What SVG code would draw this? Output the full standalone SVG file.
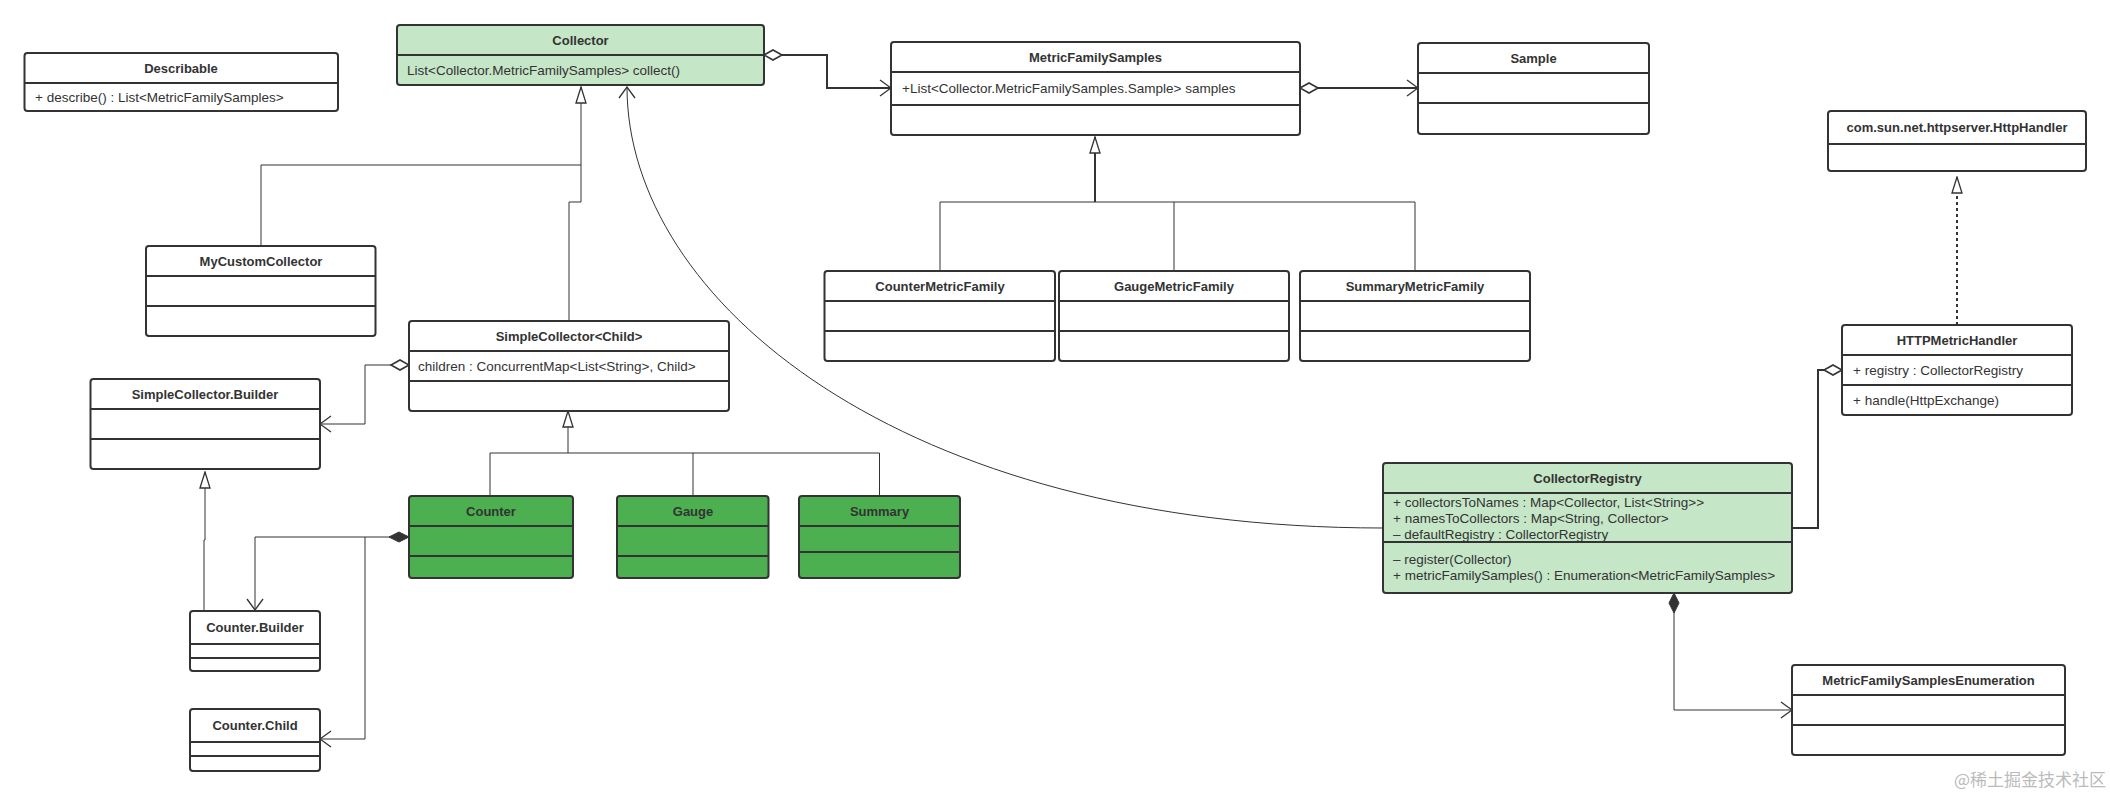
<svg xmlns="http://www.w3.org/2000/svg" width="2110" height="795" viewBox="0 0 2110 795">
<style>
.box{fill:#fff;stroke:#333;stroke-width:2}
.lg{fill:#c6e6c8}
.dg{fill:#4caf50}
.div{stroke:#333;stroke-width:2}
.h{font-family:"Liberation Sans",Arial,sans-serif;font-size:13px;font-weight:bold;fill:#333;text-anchor:middle}
.m{font-family:"Liberation Sans",Arial,sans-serif;font-size:13.5px;fill:#333}
.c{fill:none;stroke:#333;stroke-width:1}
.c2{fill:none;stroke:#333;stroke-width:2}
.wm{font-family:"Noto Sans CJK SC","Liberation Sans",sans-serif;font-size:17px;fill:#bbb;text-anchor:end}
</style>
<defs>
<marker id="open" markerUnits="userSpaceOnUse" viewBox="0 0 13 18" refX="12" refY="9" markerWidth="13" markerHeight="18" orient="auto"><path d="M1,1 L12,9 L1,17" fill="none" stroke="#333" stroke-width="1.3"/></marker>
<marker id="tri" markerUnits="userSpaceOnUse" viewBox="0 0 18 12" refX="17" refY="6" markerWidth="18" markerHeight="12" orient="auto"><path d="M1,1 L17,6 L1,11 Z" fill="#fff" stroke="#333" stroke-width="1.3"/></marker>
<marker id="hd" markerUnits="userSpaceOnUse" viewBox="0 0 22 12" refX="1" refY="6" markerWidth="22" markerHeight="12" orient="auto"><path d="M1,6 L10,1 L19,6 L10,11 Z" fill="#fff" stroke="#333" stroke-width="1.6"/></marker>
<marker id="fd" markerUnits="userSpaceOnUse" viewBox="0 0 22 12" refX="1" refY="6" markerWidth="22" markerHeight="12" orient="auto"><path d="M1,6 L11,1 L21,6 L11,11 Z" fill="#333" stroke="#333" stroke-width="1"/></marker>
</defs>
<g id="connectors">
<path class="c2" d="M764,55 H827 V88 H891" marker-start="url(#hd)" marker-end="url(#open)"/>
<path class="c2" d="M1300,88 H1418" marker-start="url(#hd)" marker-end="url(#open)"/>
<path class="c" d="M261,246 V165 H581"/>
<path class="c" d="M569,321 V202 H581 V87" marker-end="url(#tri)"/>
<path class="c" stroke="#777" d="M940,271 V202 H1415 V271 M1174,271 V202"/>
<path class="c2" d="M1095,202 V137" marker-end="url(#tri)"/>
<path class="c2" stroke-width="2.5" stroke-dasharray="3,3" d="M1957,325 V178" />
<path class="c" d="M1957,190 V177" marker-end="url(#tri)"/>
<path class="c2" d="M1842,370 H1818 V528 H1792" marker-start="url(#hd)"/>
<path class="c" stroke="#777" stroke-width="1.5" d="M1674,593 V710 H1792" marker-start="url(#fd)" marker-end="url(#open)"/>
<path class="c" d="M1383,528 C900,528 627,300 627,87" marker-end="url(#open)"/>
<path class="c" stroke="#666" d="M409,365 H365 V424 H320" marker-start="url(#hd)" marker-end="url(#open)"/>
<path class="c" d="M490,496 V453 H879.5 V496 M693,496 V453"/>
<path class="c" d="M568,453 V411" marker-end="url(#tri)"/>
<path class="c" stroke="#666" d="M409,537 H255 V610" marker-start="url(#fd)" marker-end="url(#open)"/>
<path class="c" stroke="#666" d="M365,537 V739 H320" marker-end="url(#open)"/>
<path class="c" stroke="#666" d="M204,611 V540 H205 V472" marker-end="url(#tri)"/>
</g>
<g id="Describable">
<rect class="box" x="24.5" y="53" width="313.5" height="58" rx="3"/>
<line class="div" x1="24.5" y1="83" x2="338" y2="83"/>
<text class="h" x="181" y="72.5">Describable</text>
<text class="m" x="35" y="102">+ describe() : List&lt;MetricFamilySamples&gt;</text>
</g>
<g id="Collector">
<rect class="box lg" x="397" y="25" width="367" height="60" rx="3"/>
<line class="div" x1="397" y1="55" x2="764" y2="55"/>
<text class="h" x="580.5" y="44.5">Collector</text>
<text class="m" x="407" y="75">List&lt;Collector.MetricFamilySamples&gt; collect()</text>
</g>
<g id="MetricFamilySamples">
<rect class="box" x="891" y="42" width="409" height="93" rx="3"/>
<line class="div" x1="891" y1="72" x2="1300" y2="72"/>
<line class="div" x1="891" y1="105" x2="1300" y2="105"/>
<text class="h" x="1095.5" y="62">MetricFamilySamples</text>
<text class="m" x="902" y="93">+List&lt;Collector.MetricFamilySamples.Sample&gt; samples</text>
</g>
<g id="Sample">
<rect class="box" x="1418" y="43" width="231" height="91" rx="3"/>
<line class="div" x1="1418" y1="73" x2="1649" y2="73"/>
<line class="div" x1="1418" y1="103" x2="1649" y2="103"/>
<text class="h" x="1533.5" y="63">Sample</text>
</g>
<g id="HttpHandler">
<rect class="box" x="1828" y="111" width="258" height="60" rx="3"/>
<line class="div" x1="1828" y1="144" x2="2086" y2="144"/>
<text class="h" x="1957" y="132">com.sun.net.httpserver.HttpHandler</text>
</g>
<g id="MyCustomCollector">
<rect class="box" x="146" y="246" width="229.5" height="90" rx="3"/>
<line class="div" x1="146" y1="276" x2="375.5" y2="276"/>
<line class="div" x1="146" y1="306" x2="375.5" y2="306"/>
<text class="h" x="261" y="266">MyCustomCollector</text>
</g>
<g id="SimpleCollector">
<rect class="box" x="409" y="321" width="320" height="90" rx="3"/>
<line class="div" x1="409" y1="351" x2="729" y2="351"/>
<line class="div" x1="409" y1="381" x2="729" y2="381"/>
<text class="h" x="569" y="341">SimpleCollector&lt;Child&gt;</text>
<text class="m" x="418" y="371">children : ConcurrentMap&lt;List&lt;String&gt;, Child&gt;</text>
</g>
<g id="CounterMetricFamily">
<rect class="box" x="824.5" y="271" width="230.5" height="90" rx="3"/>
<line class="div" x1="824.5" y1="301" x2="1055" y2="301"/>
<line class="div" x1="824.5" y1="331" x2="1055" y2="331"/>
<text class="h" x="940" y="291">CounterMetricFamily</text>
</g>
<g id="GaugeMetricFamily">
<rect class="box" x="1059" y="271" width="230" height="90" rx="3"/>
<line class="div" x1="1059" y1="301" x2="1289" y2="301"/>
<line class="div" x1="1059" y1="331" x2="1289" y2="331"/>
<text class="h" x="1174" y="291">GaugeMetricFamily</text>
</g>
<g id="SummaryMetricFamily">
<rect class="box" x="1300" y="271" width="230" height="90" rx="3"/>
<line class="div" x1="1300" y1="301" x2="1530" y2="301"/>
<line class="div" x1="1300" y1="331" x2="1530" y2="331"/>
<text class="h" x="1415" y="291">SummaryMetricFamily</text>
</g>
<g id="HTTPMetricHandler">
<rect class="box" x="1842" y="325" width="230" height="90" rx="3"/>
<line class="div" x1="1842" y1="355" x2="2072" y2="355"/>
<line class="div" x1="1842" y1="385" x2="2072" y2="385"/>
<text class="h" x="1957" y="345">HTTPMetricHandler</text>
<text class="m" x="1853" y="375">+ registry : CollectorRegistry</text>
<text class="m" x="1853" y="405">+ handle(HttpExchange)</text>
</g>
<g id="SimpleCollectorBuilder">
<rect class="box" x="90.5" y="379" width="229.5" height="90" rx="3"/>
<line class="div" x1="90.5" y1="409" x2="320" y2="409"/>
<line class="div" x1="90.5" y1="439" x2="320" y2="439"/>
<text class="h" x="205" y="399">SimpleCollector.Builder</text>
</g>
<g id="Counter">
<rect class="box dg" x="409" y="496" width="164" height="82" rx="3"/>
<line class="div" x1="409" y1="526" x2="573" y2="526"/>
<line class="div" x1="409" y1="556" x2="573" y2="556"/>
<text class="h" x="491" y="516">Counter</text>
</g>
<g id="Gauge">
<rect class="box dg" x="617" y="496" width="151.5" height="82" rx="3"/>
<line class="div" x1="617" y1="526" x2="768.5" y2="526"/>
<line class="div" x1="617" y1="556" x2="768.5" y2="556"/>
<text class="h" x="693" y="516">Gauge</text>
</g>
<g id="Summary">
<rect class="box dg" x="799" y="496" width="161" height="82" rx="3"/>
<line class="div" x1="799" y1="526" x2="960" y2="526"/>
<line class="div" x1="799" y1="552" x2="960" y2="552"/>
<text class="h" x="879.5" y="516">Summary</text>
</g>
<g id="CounterBuilder">
<rect class="box" x="190" y="611" width="130" height="60" rx="3"/>
<line class="div" x1="190" y1="644" x2="320" y2="644"/>
<line class="div" x1="190" y1="658" x2="320" y2="658"/>
<text class="h" x="255" y="632">Counter.Builder</text>
</g>
<g id="CounterChild">
<rect class="box" x="190" y="709" width="130" height="62" rx="3"/>
<line class="div" x1="190" y1="742" x2="320" y2="742"/>
<line class="div" x1="190" y1="756" x2="320" y2="756"/>
<text class="h" x="255" y="730">Counter.Child</text>
</g>
<g id="CollectorRegistry">
<rect class="box lg" x="1383" y="463" width="409" height="130" rx="3"/>
<line class="div" x1="1383" y1="493" x2="1792" y2="493"/>
<line class="div" x1="1383" y1="542" x2="1792" y2="542"/>
<text class="h" x="1587.5" y="483">CollectorRegistry</text>
<text class="m" x="1393" y="507">+ collectorsToNames : Map&lt;Collector, List&lt;String&gt;&gt;</text>
<text class="m" x="1393" y="523">+ namesToCollectors : Map&lt;String, Collector&gt;</text>
<text class="m" x="1393" y="539">– defaultRegistry : CollectorRegistry</text>
<text class="m" x="1393" y="564">– register(Collector)</text>
<text class="m" x="1393" y="580">+ metricFamilySamples() : Enumeration&lt;MetricFamilySamples&gt;</text>
</g>
<g id="MetricFamilySamplesEnumeration">
<rect class="box" x="1792" y="665" width="273" height="90" rx="3"/>
<line class="div" x1="1792" y1="695" x2="2065" y2="695"/>
<line class="div" x1="1792" y1="725" x2="2065" y2="725"/>
<text class="h" x="1928.5" y="685">MetricFamilySamplesEnumeration</text>
</g>
<text class="wm" x="2106" y="786">@稀土掘金技术社区</text>
</svg>
